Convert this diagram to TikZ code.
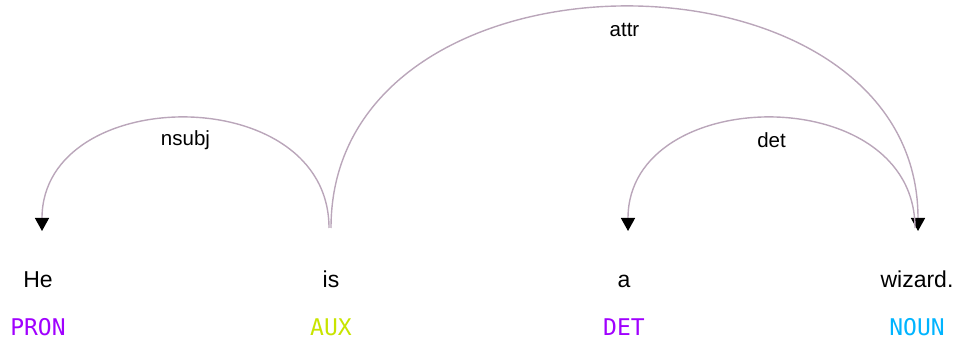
\documentclass[tikz,border=0pt]{standalone}
\usepackage{fontspec}
\setmainfont{Liberation Sans}
\newfontfamily\tagfont{DejaVu Sans Mono}
\usetikzlibrary{arrows.meta}
\definecolor{arcgray}{RGB}{186,166,186}
\definecolor{tagpurple}{RGB}{160,0,255}
\definecolor{taglime}{RGB}{200,228,0}
\definecolor{tagblue}{RGB}{0,180,255}
\tikzset{
    depword/.style={font=\fontsize{23}{25}\selectfont,anchor=base,inner sep=0pt},
    deptag/.style={font=\tagfont\fontsize{23}{25}\selectfont,anchor=base,inner sep=0pt},
    depline/.style={draw=arcgray,line width=1.4pt,-{Triangle[width=14pt,length=13pt,color=black]}},
    deplabel/.style={font=\fontsize{20.5}{22}\selectfont,inner sep=0pt,pos=0.5,yshift=-22pt}
}
\begin{document}
\begin{tikzpicture}[x=1pt,y=-1pt]
    \useasboundingbox (0,0) rectangle (963,344);
    % tokens
    \node[depword] (he) at (38,288) {He};
    \node[depword] (is) at (331,288) {is};
    \node[depword] (a) at (624,288) {a};
    \node[depword] (wizard) at (917,288) {wizard.};
    % part-of-speech tags
    \node[deptag,text=tagpurple] (pron) at (38,335) {PRON};
    \node[deptag,text=taglime] (aux) at (331,335) {AUX};
    \node[deptag,text=tagpurple] (det) at (624,335) {DET};
    \node[deptag,text=tagblue] (noun) at (917,335) {NOUN};
    % arcs, head to dependent
    \draw[depline] ([xshift=-2pt,yshift=60pt]is.base) .. controls +(0,-148) and +(0,-148) .. ([xshift=4pt,yshift=57pt]he.base)
        node[deplabel] (nsubjlbl) {nsubj};
    \draw[depline] ([yshift=60pt]is.base) .. controls +(0,-296) and +(0,-296) .. ([xshift=1pt,yshift=57pt]wizard.base)
        node[deplabel] (attrlbl) {attr};
    \draw[depline] ([xshift=-2pt,yshift=60pt]wizard.base) .. controls +(0,-148) and +(0,-148) .. ([xshift=4pt,yshift=57pt]a.base)
        node[deplabel] (detlbl) {det};
\end{tikzpicture}
\end{document}
